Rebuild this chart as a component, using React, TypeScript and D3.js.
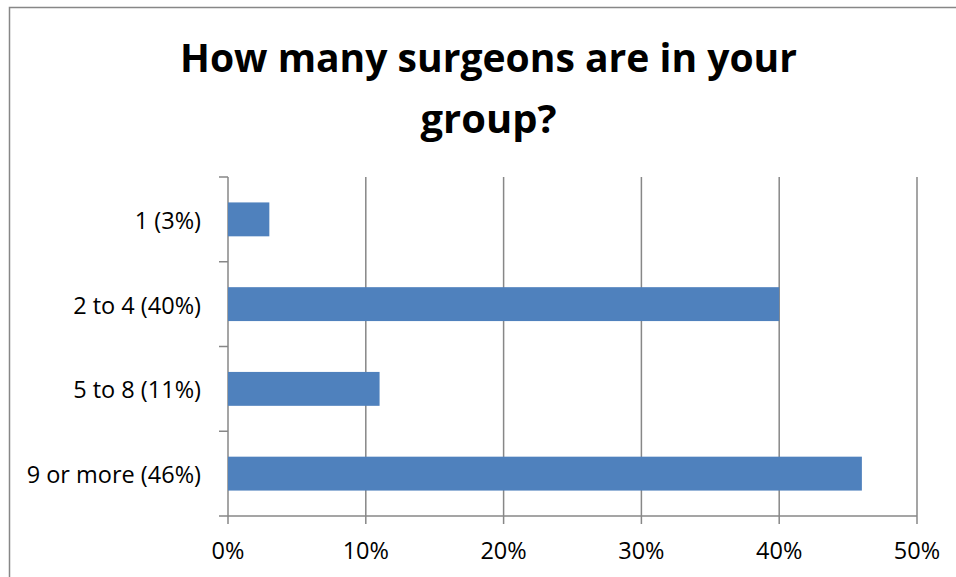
import React from "react";
import * as d3 from "d3";

const categories = ["1 (3%)", "2 to 4 (40%)", "5 to 8 (11%)", "9 or more (46%)"];
const values = [3, 40, 11, 46];
const xTicks = [0, 10, 20, 30, 40, 50];
const titleLines = ["How many surgeons are in your", "group?"];
const titleWidths = [617, 136];

export default function App() {
  const W = 956;
  const H = 577;
  const left = 228;
  const right = 917;
  const top = 177;
  const bottom = 516;
  const grid = "#878787";

  const x = d3.scaleLinear().domain([0, 50]).range([left, right]);
  const y = d3
    .scaleBand<string>()
    .domain(categories)
    .range([top, bottom])
    .paddingInner(0.6)
    .paddingOuter(0.3);
  const boundaries = d3.range(categories.length + 1).map((i) => top + i * ((bottom - top) / categories.length));

  return (
    <svg
      width={W}
      height={H}
      style={{ position: "absolute", left: 0, top: 0, background: "#fff" }}
      fontFamily="'Open Sans', Lato, sans-serif"
    >
      <rect x={9.5} y={7.5} width={1000} height={700} fill="#fff" stroke={grid} strokeWidth={1.5} />
      {titleLines.map((t, i) => (
        <text
          key={i}
          x={488.5}
          y={72 + i * 61}
          textAnchor="middle"
          fontSize={40}
          fontWeight="bold"
          fill="#000"
          textLength={titleWidths[i]}
          lengthAdjust="spacingAndGlyphs"
        >
          {t}
        </text>
      ))}
      {xTicks.map((t) => (
        <g key={t}>
          <line x1={x(t)} x2={x(t)} y1={top} y2={bottom + 8} stroke={grid} strokeWidth={1.5} />
          <text x={x(t)} y={558.5} textAnchor="middle" fontSize={23.5} fill="#000">
            {t}%
          </text>
        </g>
      ))}
      {boundaries.map((b, i) => (
        <line key={i} x1={left - 9} x2={left} y1={b} y2={b} stroke={grid} strokeWidth={1.5} />
      ))}
      <line x1={left} x2={right} y1={bottom} y2={bottom} stroke={grid} strokeWidth={1.5} />
      {categories.map((c, i) => (
        <g key={c}>
          <rect
            x={x(0)}
            y={y(c)!}
            width={x(values[i]) - x(0)}
            height={y.bandwidth()}
            fill="#4F81BD"
          />
          <text
            x={201}
            y={y(c)! + y.bandwidth() / 2 + 9.5}
            textAnchor="end"
            fontSize={23.5}
            fill="#000"
          >
            {c}
          </text>
        </g>
      ))}
    </svg>
  );
}
